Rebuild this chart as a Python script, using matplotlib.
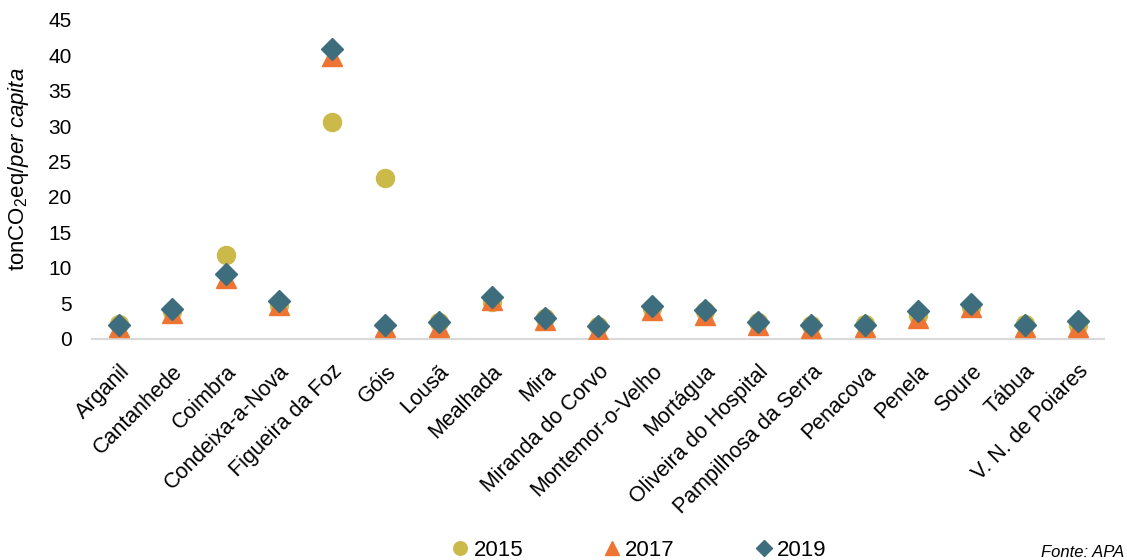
import matplotlib.pyplot as plt
import numpy as np

plt.rcParams['font.family'] = ['Liberation Sans', 'DejaVu Sans']
plt.rcParams['mathtext.fontset'] = 'custom'
plt.rcParams['mathtext.rm'] = 'Liberation Sans'
plt.rcParams['mathtext.it'] = 'Liberation Sans:italic'

municipios = ['Arganil', 'Cantanhede', 'Coimbra', 'Condeixa-a-Nova', 'Figueira da Foz',
              'Góis', 'Lousã', 'Mealhada', 'Mira', 'Miranda do Corvo', 'Montemor-o-Velho',
              'Mortágua', 'Oliveira do Hospital', 'Pampilhosa da Serra', 'Penacova',
              'Penela', 'Soure', 'Tábua', 'V. N. de Poiares']
v2015 = [2.1, 3.9, 11.8, 4.8, 30.6, 22.7, 2.3, 5.2, 3.0, 1.8, 4.3, 3.9, 2.3, 1.9, 2.1, 3.3, 4.5, 2.1, 1.9]
v2017 = [1.6, 3.7, 8.6, 4.8, 39.8, 1.6, 1.7, 5.4, 2.6, 1.3, 4.1, 3.3, 2.0, 1.5, 1.6, 3.0, 4.5, 1.6, 1.7]
v2019 = [1.9, 4.2, 9.1, 5.3, 40.8, 2.0, 2.4, 5.9, 3.0, 1.8, 4.6, 4.1, 2.3, 1.9, 2.0, 3.9, 4.9, 1.9, 2.5]

fig = plt.figure(figsize=(11.27, 5.6), dpi=100)
ax = fig.add_axes([0.082, 0.395, 0.898, 0.57])

x = np.arange(len(municipios))
ax.plot(x, v2015, 'o', color='#CBB94A', markersize=13, label='2015', linestyle='none')
ax.plot(x, v2017, '^', color='#EE7433', markersize=14, label='2017', linestyle='none')
ax.plot(x, v2019, 'D', color='#3E6E7D', markersize=11, label='2019', linestyle='none')

ax.set_xlim(-0.5, len(municipios) - 0.5)
ax.set_ylim(0, 45)
ax.set_yticks(range(0, 46, 5))
ax.set_xticks(x)
ax.set_xticklabels(municipios, rotation=45, ha='right', rotation_mode='anchor', fontsize=15.5)
ax.tick_params(axis='y', labelsize=15, length=0, pad=15)
ax.tick_params(axis='x', length=0, pad=16)
for s in ['top', 'right', 'left']:
    ax.spines[s].set_visible(False)
ax.spines['bottom'].set_color('#D9D9D9')
ax.spines['bottom'].set_linewidth(1.5)
ax.spines['bottom'].set_zorder(0)
ax.set_ylabel(r'tonCO$_2$eq/$\it{per\ capita}$', fontsize=16)
ax.yaxis.set_label_coords(-0.061, 0.53)

fig.legend(loc='center', bbox_to_anchor=(0.566, 0.017), ncol=3, frameon=False,
           fontsize=16, columnspacing=3.5, handletextpad=0.1, handlelength=1.0,
           markerscale=0.75)
fig.text(0.998, 0.014, 'Fonte: APA', ha='right', va='center', fontsize=12, style='italic')

fig.savefig('out.png', dpi=100)
